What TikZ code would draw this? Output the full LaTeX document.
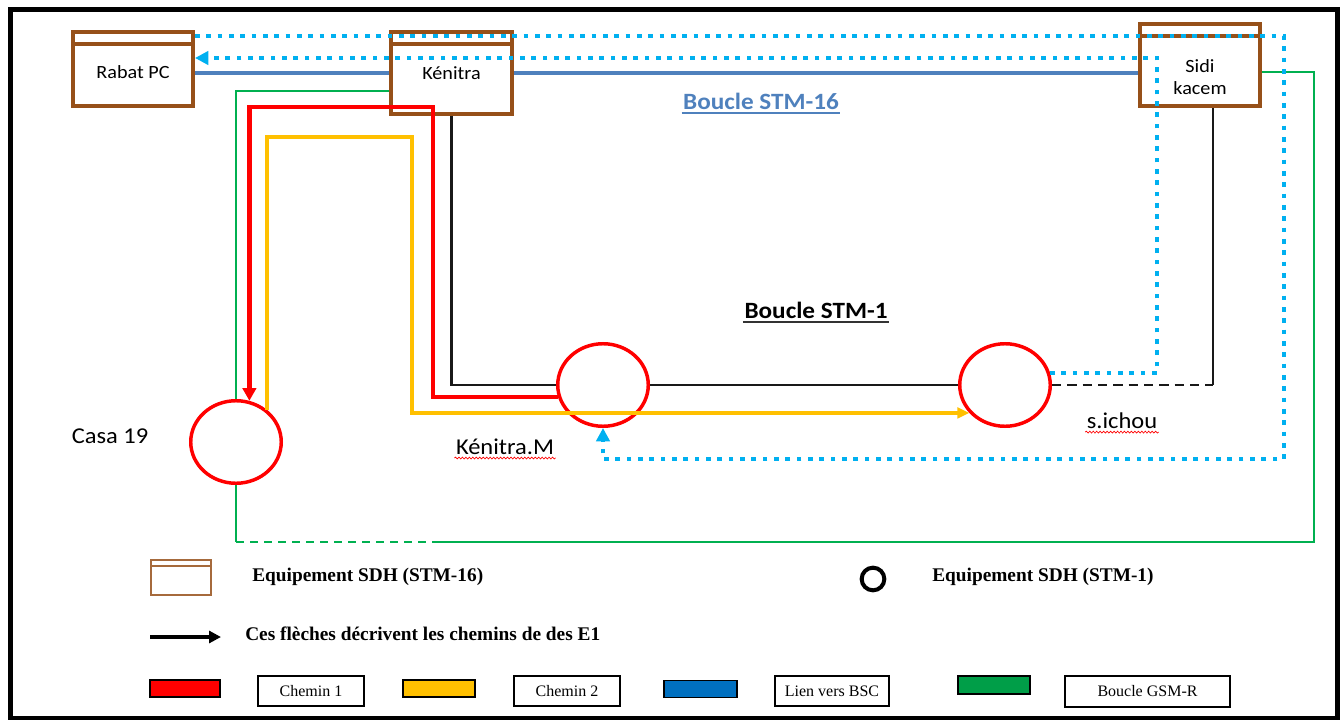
\documentclass[tikz,border=0pt]{standalone}
\usepackage{fontspec}
\setmainfont{Liberation Serif}
\newfontfamily\calibrifont[FakeStretch=1.08]{Carlito}
\usetikzlibrary{arrows.meta,shapes.geometric,decorations.pathmorphing}
\definecolor{sdhbrown}{RGB}{150,80,25}
\definecolor{stmblue}{RGB}{79,129,189}
\definecolor{dotcyan}{RGB}{0,176,240}
\definecolor{pathred}{RGB}{255,0,0}
\definecolor{pathyellow}{RGB}{255,192,0}
\definecolor{gsmgreen}{RGB}{0,176,80}
\definecolor{bscblue}{RGB}{0,112,192}

\begin{document}
\begin{tikzpicture}[
  x=0.75pt, y=-0.75pt,
  sdhbox/.style={rectangle, draw=sdhbrown, line width=3pt, inner sep=0pt,
                 path picture={\draw[sdhbrown, line width=3pt]
                   ([yshift=-9pt]path picture bounding box.north west) --
                   ([yshift=-9pt]path picture bounding box.north east);}},
  sdhicon/.style={rectangle, draw=sdhbrown!85, line width=1.4pt, inner sep=0pt,
                  minimum width=45pt, minimum height=26.25pt,
                  path picture={\draw[sdhbrown!85, line width=1.4pt]
                    ([yshift=-4.5pt]path picture bounding box.north west) --
                    ([yshift=-4.5pt]path picture bounding box.north east);}},
  boxlabel/.style={font=\calibrifont\fontsize{14}{17}\selectfont, align=center},
  stmone/.style={ellipse, draw=pathred, line width=2.6pt, inner sep=0pt,
                 minimum width=67.9pt, minimum height=61.9pt},
  stmicon/.style={circle, draw=black, line width=3pt, inner sep=0pt, minimum size=17pt},
  sitelabel/.style={font=\calibrifont\fontsize{17}{20}\selectfont, inner sep=1pt},
  looptitle/.style={font=\calibrifont\bfseries\fontsize{17.5}{21}\selectfont, inner sep=1pt},
  underbar/.style={line width=1.3pt},
  legtext/.style={anchor=west, inner sep=0pt, font=\bfseries\fontsize{14.5}{17}\selectfont},
  swatch/.style={rectangle, draw=black, line width=0.8pt, inner sep=0pt,
                 minimum width=52.5pt, minimum height=12.75pt},
  legbox/.style={rectangle, draw=black, line width=1.1pt, inner sep=0pt,
                 minimum width=79.5pt, minimum height=22.5pt,
                 font=\fontsize{12}{14}\selectfont},
  spellwave/.style={pathred, line width=0.5pt, decorate,
                    decoration={snake, amplitude=0.7pt, segment length=2.6pt}},
  bsc/.style={stmblue, line width=2.6pt},
  stmline/.style={black!90, line width=1.8pt},
  gsm/.style={gsmgreen, line width=1.8pt},
  chemin1/.style={pathred, line width=3.2pt, -{Triangle[length=9.5pt, width=10pt]}},
  chemin2/.style={pathyellow, line width=2.6pt, -{Triangle[length=9pt, width=8pt]}},
  bsclink/.style={dotcyan, line width=3pt, dash pattern=on 3.5pt off 5pt,
                  -{Triangle[length=10pt, width=10pt]}},
  legarrow/.style={black, line width=3pt, -{Triangle[length=9pt, width=9pt]}}
]
\useasboundingbox (0,0) rectangle (1341,720);
\draw[line width=3.75pt] (10,10) rectangle (1337,718);

% equipements STM-16
\node[sdhbox, minimum width=90pt, minimum height=55.5pt,
      label={[boxlabel, yshift=-2pt]center:Rabat PC}] (rabat) at (133,69) {};
\node[sdhbox, minimum width=90.75pt, minimum height=61.5pt,
      label={[boxlabel]center:Kénitra}] (ken) at (451.5,73) {};
\node[sdhbox, minimum width=90pt, minimum height=61.5pt,
      label={[boxlabel, yshift=-9pt]center:{Sidi\\kacem}}] (sidi) at (1200,65) {};

% equipements STM-1
\node[stmone] (casa) at (236,442) {};
\node[stmone] (kenm) at (603,385) {};
\node[stmone] (sichou) at (1005,385) {};

\node[sitelabel] (casalab) at (110,436) {Casa 19};
\node[sitelabel] (kenmlab) at (505,447) {Kénitra.M};
\node[sitelabel] (sichoulab) at (1122,421) {s.ichou};
\draw[spellwave] ([yshift=-2.5pt]kenmlab.base west) -- ([yshift=-2.5pt]kenmlab.base east);
\draw[spellwave] ([yshift=-2.5pt]sichoulab.base west) -- ([yshift=-2.5pt]sichoulab.base east);

\node[looptitle, text=stmblue] (stm16lab) at (761,101) {Boucle STM-16};
\node[looptitle] (stm1lab) at (816,310) {Boucle STM-1};
\draw[underbar, stmblue] ([yshift=-3pt]stm16lab.base west) -- ([yshift=-3pt]stm16lab.base east);
\draw[underbar, black!80] ([yshift=-3pt]stm1lab.base west) -- ([yshift=-3pt]stm1lab.base east);

% lien vers BSC
\draw[bsc] (rabat.east |- ken.west) -- (ken.west);
\draw[bsc] (ken.east) -- (ken.east -| sidi.west);

% boucle STM-1
\draw[stmline] (ken.south) |- (kenm.west);
\draw[stmline] (kenm.east) -- (sichou.west);
\draw[stmline, dash pattern=on 7pt off 4.5pt] (sichou.east) -- (1213,385) coordinate (skturn);
\draw[stmline] (skturn) -- (skturn |- sidi.south);

% boucle GSM-R
\draw[gsm] (ken.west |- 0,91) -| (casa.north);
\draw[gsm] (casa.south) -- (casa.south |- 0,542) coordinate (gsmA);
\draw[gsm, dash pattern=on 6pt off 4.5pt] (gsmA) -- (433,542) coordinate (gsmB);
\draw[gsm] (gsmB) -| (1314,72) -- (sidi.east |- 0,72);

% chemins des E1
\draw[chemin1] (kenm.195) -| (433,107) -| (casa.72);
\draw[chemin2] (casa.46) |- (412,137) |- (sichou.218);
\draw[bsclink] (rabat.east |- 0,36) -| (1284,459) -| (kenm.south);
\draw[bsclink] (sichou.15) -| (1157,58) -- (rabat.east |- 0,58);

% legende
\node[sdhicon] (legsdh) at (181,577.5) {};
\node[legtext] (legsdhtxt) at (252,577) {Equipement SDH (STM-16)};
\node[stmicon] (legstm) at (873,579) {};
\node[legtext] (legstmtxt) at (932,577) {Equipement SDH (STM-1)};
\coordinate (legarrA) at (150,637);
\coordinate (legarrB) at (221,637);
\draw[legarrow] (legarrA) -- (legarrB);
\node[legtext] (legarrtxt) at (245,634) {Ces flèches décrivent les chemins de des E1};

\node[swatch, fill=pathred] (swred) at (185,688.5) {};
\node[legbox] (ch1) at (311,691) {Chemin 1};
\node[swatch, minimum width=54pt, fill=pathyellow] (swyellow) at (439,688.5) {};
\node[legbox] (ch2) at (567,691) {Chemin 2};
\node[swatch, minimum width=54.75pt, fill=bscblue] (swblue) at (700.5,689) {};
\node[legbox, minimum width=85.5pt] (lienbsc) at (832,691) {Lien vers BSC};
\node[swatch, minimum width=54pt, minimum height=13.5pt, fill=gsmgreen!90!black] (swgreen) at (994,685) {};
\node[legbox, minimum width=123.75pt, minimum height=23.25pt] (gsmbox) at (1147.5,691.5) {Boucle GSM-R};
\end{tikzpicture}
\end{document}
